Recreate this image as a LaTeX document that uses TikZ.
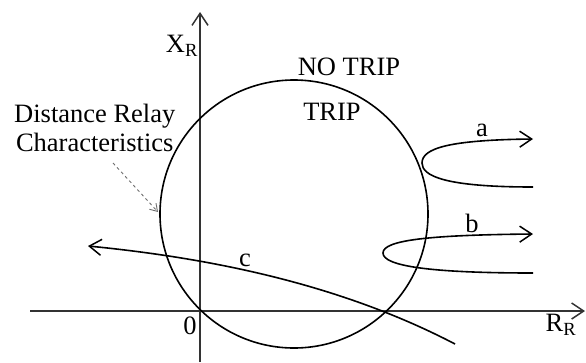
\documentclass[tikz,border=0pt]{standalone}
\usepackage{fontspec}
\setmainfont{Liberation Serif}
\usetikzlibrary{arrows.meta}
\definecolor{ejeGris}{HTML}{333333}
\definecolor{flechaGris}{HTML}{707070}

\begin{document}
\begin{tikzpicture}[x=1pt,y=-1pt,
    eje/.style={draw=ejeGris, line width=2.4pt},
    curva/.style={draw=black, line width=1.6pt},
    punta/.style={-{Straight Barb[length=12pt,width=16pt,line width=1.5pt]}},
    rotulo/.style={font=\fontsize{26.5}{29}\selectfont, inner sep=0pt, align=center}]
      \useasboundingbox (0,0) rectangle (586,362);
      % ejes
      \coordinate (ejeIzq) at (30,311);
      \coordinate (ejeDer) at (585,311);
      \coordinate (ejeAbajo) at (200,362);
      \coordinate (ejeArriba) at (200,12);
      \draw[eje, punta] (ejeIzq) -- (ejeDer);
      \draw[eje, punta] (ejeAbajo) -- (ejeArriba);
      \node[rotulo] (xr) at (182,46) {X\textsubscript{R}};
      \node[rotulo] (rr) at (561,325) {R\textsubscript{R}};
      \node[rotulo] (cero) at (190,326) {0};
      % caracteristica
      \draw[curva] (294,214) circle (134);
      \node[rotulo] (notrip) at (349,67) {NO TRIP};
      \node[rotulo] (trip) at (332,112) {TRIP};
      \node[rotulo, anchor=west] (relay) at (14,128) {Distance Relay\\Characteristics};
      \coordinate (toque) at (158,212);
      \draw[flechaGris, dashed, line width=0.9pt,
            -{Straight Barb[length=7pt,width=9pt]}] (113,163) -- (toque);
      % trayectorias
      \coordinate (aIni) at (533,187);
      \coordinate (aFin) at (533,139);
      \draw[curva, punta] (aIni) .. controls (445,187) and (422,176) .. (422,163)
            .. controls (422,148) and (450,140) .. (aFin);
      \node[rotulo] (la) at (482,130) {a};
      \coordinate (bIni) at (533,273);
      \coordinate (bFin) at (533,234);
      \draw[curva, punta] (bIni) .. controls (430,273) and (383,266) .. (383,253)
            .. controls (383,240) and (430,235) .. (bFin);
      \node[rotulo] (lb) at (472,223) {b};
      \coordinate (cIni) at (455,344);
      \coordinate (cFin) at (88,246);
      \draw[curva, punta] (cIni) .. controls (340,284) and (210,258) .. (cFin);
      \node[rotulo] (lc) at (245,260) {c};
    \end{tikzpicture}
\end{document}
